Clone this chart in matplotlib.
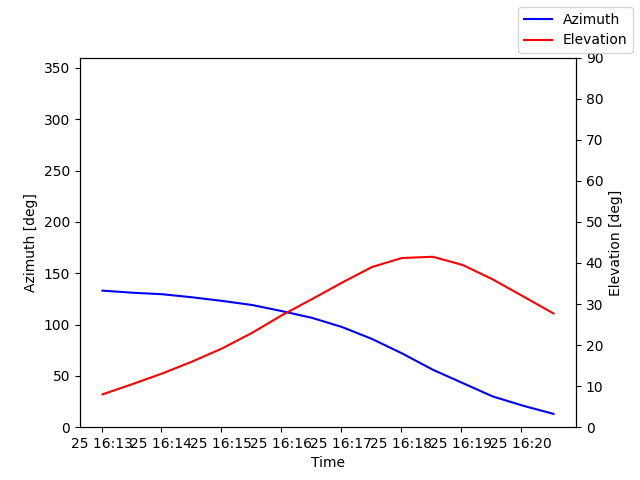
import pandas as pd
import matplotlib
matplotlib.use('Agg')
import matplotlib.pyplot as plt

times = ['2023-03-25 16:13:01', '2023-03-25 16:13:31', '2023-03-25 16:14:01', '2023-03-25 16:14:31',
         '2023-03-25 16:15:01', '2023-03-25 16:15:31', '2023-03-25 16:16:01', '2023-03-25 16:16:31',
         '2023-03-25 16:17:01', '2023-03-25 16:17:31', '2023-03-25 16:18:01', '2023-03-25 16:18:32',
         '2023-03-25 16:19:02', '2023-03-25 16:19:32', '2023-03-25 16:20:03', '2023-03-25 16:20:33']
azimuth = [133.0, 131.0, 129.5, 126.5, 123.0, 119.0, 113.0, 106.5,
           97.6, 86.0, 72.0, 56.0, 43.0, 30.0, 20.8, 13.0]
elevation = [8.0, 10.5, 13.1, 16.0, 19.2, 23.0, 27.3, 31.2,
             35.2, 39.0, 41.2, 41.5, 39.5, 36.0, 31.8, 27.7]

t = pd.to_datetime(times)

fig, ax = plt.subplots(figsize=(6.4, 4.8), dpi=100)
ax.plot(t, azimuth, color='blue', label='Azimuth')
ax.set_ylim(0, 360)
ax.set_ylabel('Azimuth [deg]')
ax.set_xlabel('Time')

ax2 = ax.twinx()
ax2.plot(t, elevation, color='red', label='Elevation')
ax2.set_ylim(0, 90)
ax2.set_ylabel('Elevation [deg]')

fig.legend(loc='upper right')
plt.savefig('out.png')
